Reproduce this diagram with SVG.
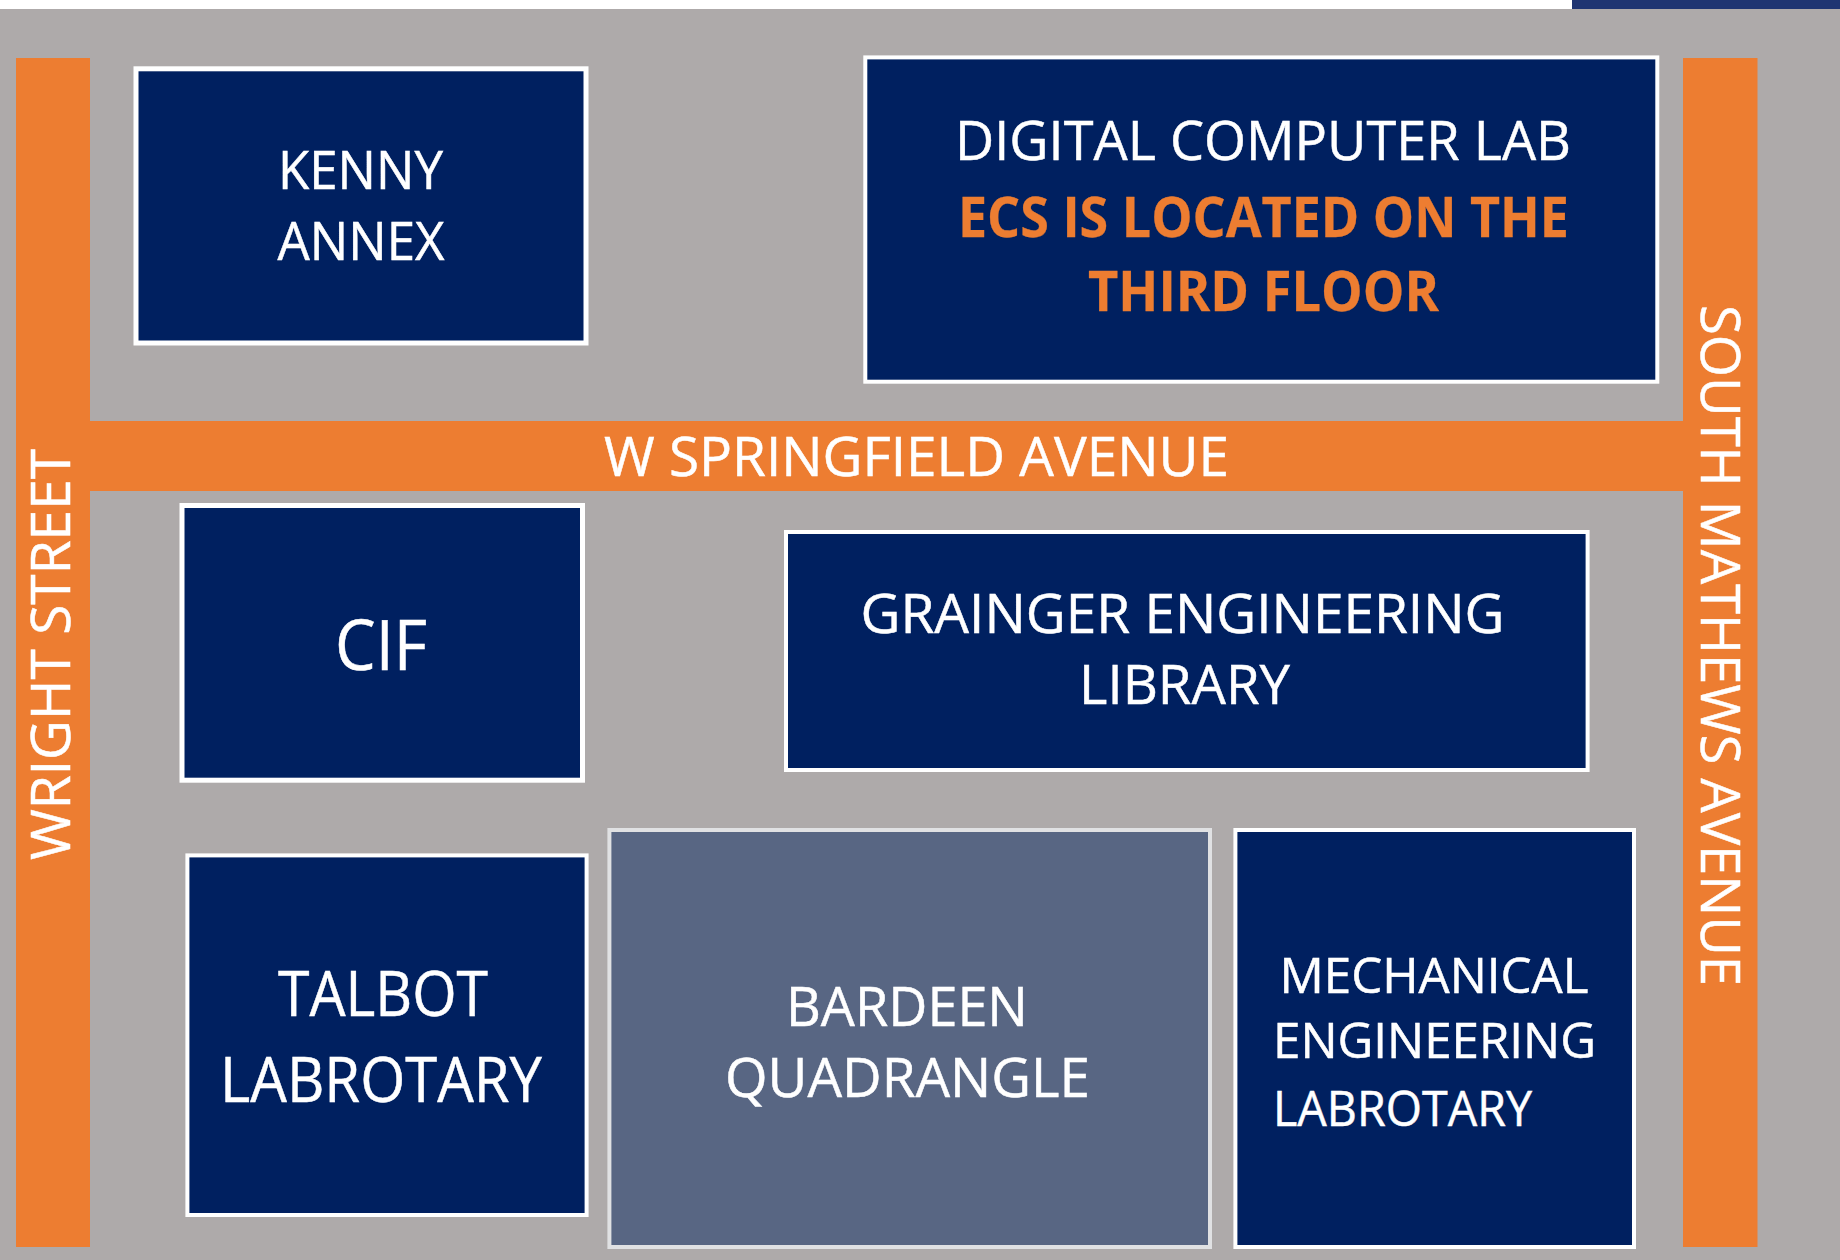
<svg xmlns="http://www.w3.org/2000/svg" width="1840" height="1260" viewBox="0 0 1840 1260">
<style>
text{font-family:"Open Sans","Noto Sans","Liberation Sans",sans-serif;fill:#fff;font-weight:400;stroke:#fff;stroke-width:.5}
.b{fill:#002060;stroke:#fff;stroke-width:5}
.r{fill:#ed7d31}
text.o{fill:#ed7d31;stroke:#ed7d31;stroke-width:.3;font-weight:700}
.s54{font-size:55px}.s52{font-size:53px}.s48{font-size:49px}.s61{font-size:62px}.s68{font-size:69px}
</style>
<rect x="0" y="0" width="1840" height="1260" fill="#fff"/>
<rect x="0" y="9" width="1840" height="1251" fill="#aeaaaa"/>
<rect x="1572" y="0" width="268" height="9" fill="#1f3572"/>
<g id="roads">
<rect class="r" x="16" y="58" width="74" height="1189"/>
<rect class="r" x="1683" y="58" width="74.500" height="1189"/>
<rect class="r" x="90" y="421" width="1593" height="70"/>
<text class="s54" x="604" y="476" textLength="625" lengthAdjust="spacingAndGlyphs">W SPRINGFIELD AVENUE</text>
<text class="s54" transform="translate(69.500 860) rotate(-90)" x="0" y="0" textLength="411" lengthAdjust="spacingAndGlyphs">WRIGHT STREET</text>
<text class="s54" transform="translate(1701 305) rotate(90)" x="0" y="0" textLength="681" lengthAdjust="spacingAndGlyphs">SOUTH MATHEWS AVENUE</text>
</g>
<g id="kenny-annex">
<rect class="b" x="136" y="68.800" width="450" height="274.200"/>
<text class="s52" x="278" y="188.800" textLength="165" lengthAdjust="spacingAndGlyphs">KENNY</text>
<text class="s52" x="277.500" y="260" textLength="167" lengthAdjust="spacingAndGlyphs">ANNEX</text>
</g>
<g id="digital-computer-lab">
<rect class="b" style="stroke-width:4" x="865.300" y="57.400" width="792" height="324.300"/>
<text class="s54" x="955" y="160" textLength="616" lengthAdjust="spacingAndGlyphs">DIGITAL COMPUTER LAB</text>
<text class="s54 o" x="958" y="236.500" textLength="611" lengthAdjust="spacingAndGlyphs">ECS IS LOCATED ON THE</text>
<text class="s54 o" x="1088" y="311" textLength="351" lengthAdjust="spacingAndGlyphs">THIRD FLOOR</text>
</g>
<g id="cif">
<rect class="b" x="182" y="505.500" width="400.500" height="274.700"/>
<text class="s68" x="335" y="670" textLength="92" lengthAdjust="spacingAndGlyphs">CIF</text>
</g>
<g id="grainger-engineering-library">
<rect class="b" style="stroke-width:4" x="786" y="532" width="801.600" height="238"/>
<text class="s54" x="860.500" y="632.500" textLength="644" lengthAdjust="spacingAndGlyphs">GRAINGER ENGINEERING</text>
<text class="s54" x="1079" y="704" textLength="211" lengthAdjust="spacingAndGlyphs">LIBRARY</text>
</g>
<g id="talbot-labrotary">
<rect class="b" style="stroke-width:4" x="187.400" y="855.400" width="399.200" height="359.600"/>
<text class="s61" x="278" y="1015.500" textLength="210" lengthAdjust="spacingAndGlyphs">TALBOT</text>
<text class="s61" x="220" y="1101.500" textLength="322" lengthAdjust="spacingAndGlyphs">LABROTARY</text>
</g>
<g id="bardeen-quadrangle">
<rect x="609.400" y="830" width="600.600" height="417" fill="#586683" stroke="#e0e1e3" stroke-width="4"/>
<text class="s54" x="786" y="1025.700" textLength="242" lengthAdjust="spacingAndGlyphs">BARDEEN</text>
<text class="s54" x="725" y="1097" textLength="365" lengthAdjust="spacingAndGlyphs">QUADRANGLE</text>
</g>
<g id="mechanical-engineering-labrotary">
<rect class="b" style="stroke-width:4" x="1235.400" y="830" width="398.600" height="417"/>
<text class="s48" x="1279.500" y="992.800" textLength="309" lengthAdjust="spacingAndGlyphs">MECHANICAL</text>
<text class="s48" x="1273" y="1058" textLength="323" lengthAdjust="spacingAndGlyphs">ENGINEERING</text>
<text class="s48" x="1273" y="1126" textLength="259" lengthAdjust="spacingAndGlyphs">LABROTARY</text>
</g>
</svg>
